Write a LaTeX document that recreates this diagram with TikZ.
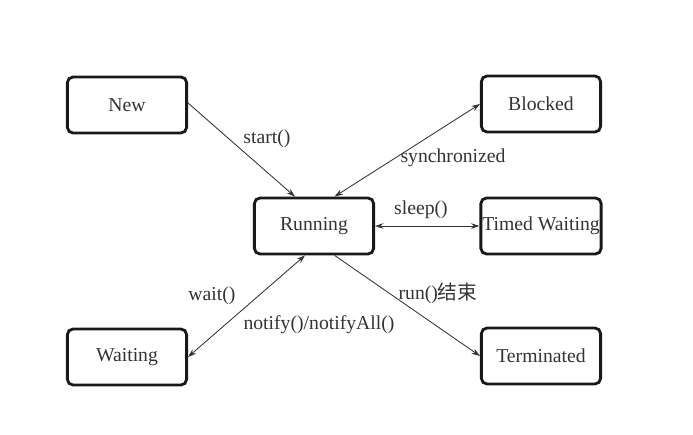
\documentclass[tikz,border=0pt]{standalone}
\usepackage{fontspec}
\setmainfont{Liberation Serif}
\newfontfamily\cjk{Noto Sans CJK SC}
\usepackage{tikz}
\usetikzlibrary{arrows.meta}

\begin{document}
\begin{tikzpicture}[x=0.025cm, y=-0.025cm, every node/.style={font=\fontsize{14}{16}\selectfont, text=black!80},
  state/.style={draw=black!90, line width=2pt, rounded corners=4pt, minimum width=2.98cm, minimum height=1.4cm, inner sep=1pt},
  trans/.style={draw=black!80, line width=0.6pt, -{Stealth[length=6pt,width=4pt]}},
  both/.style={trans, {Stealth[length=6pt,width=4pt]}-{Stealth[length=6pt,width=4pt]}}]
\useasboundingbox (0,0) rectangle (693,435);
\node[state] (new) at (127,105) {New};
\node[state] (blocked) at (541,104) {Blocked};
\node[state] (run) at (314,226) {Running};
\node[state] (timed) at (541,226) {Timed Waiting};
\node[state] (wait) at (127,357) {Waiting};
\node[state] (term) at (541,356) {Terminated};
\draw[trans] (new.east) ++(0,-2) -- (run.123);
\draw[both] (run.55) -- (blocked.west);
\draw[both] (run.east) -- (timed.west);
\draw[both] (run.253) -- (wait.east);
\draw[trans] (run.305) -- (term.west);
\node[inner sep=0] (lstart) at (267,139) {start()};
\node[inner sep=0] (lsync) at (453,158) {synchronized};
\node[inner sep=0] (lsleep) at (421,210) {sleep()};
\node[inner sep=0] (lwait) at (212,296) {wait()};
\node[inner sep=0] (lnotify) at (319,325) {notify()/notifyAll()};
\node[inner sep=0] (lend) at (438,293) {run(){\cjk 结束}};
\end{tikzpicture}
\end{document}
